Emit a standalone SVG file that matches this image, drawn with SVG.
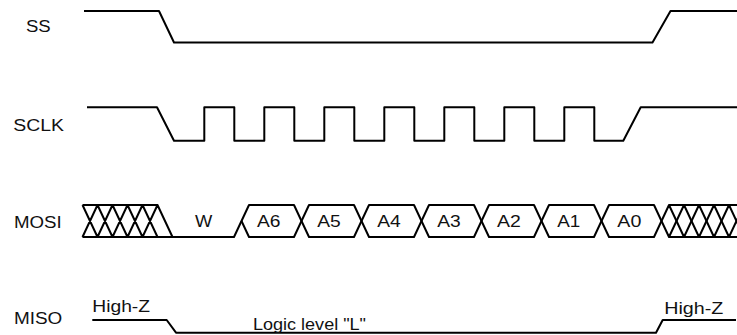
<svg xmlns="http://www.w3.org/2000/svg" width="737" height="335" viewBox="0 0 737 335">
<style>
.w{fill:none;stroke:#000;stroke-width:2;stroke-linejoin:round;stroke-linecap:butt}
.t{font-family:"Liberation Sans",Arial,sans-serif;font-size:16px;fill:#111}
</style>
<rect width="737" height="335" fill="#fff"/>
<g id="labels">
<text class="t" x="26" y="32" textLength="24.7" lengthAdjust="spacingAndGlyphs">SS</text>
<text class="t" x="13.3" y="131" textLength="50.7" lengthAdjust="spacingAndGlyphs">SCLK</text>
<text class="t" x="14" y="227.7" textLength="47.7" lengthAdjust="spacingAndGlyphs">MOSI</text>
<text class="t" x="14" y="324.3" textLength="48.3" lengthAdjust="spacingAndGlyphs">MISO</text>
</g>
<g id="ss">
<path class="w" d="M84,11 H159 L174,42.5 H652.5 L670.5,11 H737"/>
</g>
<g id="sclk">
<path class="w" d="M87,107.3 H157 L174,140.7 H204.3 V107.3 H234.3 V140.7 H264.3 V107.3 H294.3 V140.7 H324.3 V107.3 H354.3 V140.7 H384.3 V107.3 H414.3 V140.7 H444.3 V107.3 H474.3 V140.7 H504.3 V107.3 H534.3 V140.7 H564.3 V107.3 H594.3 V140.7 H623.3 L640.7,107.3 H737"/>
</g>
<g id="mosi">
<path class="w" d="M82.5,205 H157.5 M82.5,205 L97.5,237 L112.5,205 L127.5,237 L142.5,205 L157.5,237 M82.5,237 L97.5,205 L112.5,237 L127.5,205 L142.5,237 L157.5,205 L172.5,237"/>
<path class="w" d="M82.5,237 H234 L249,205 H294 L309,237 H354 L369,205 H414 L429,237 H474 L489,205 H534 L549,237 H594 L609,205 H654 L669,237 L684,205 L699,237 L714,205 L729,237 L744,205"/>
<path class="w" d="M241.5,221 L249,237 H294 L309,205 H354 L369,237 H414 L429,205 H474 L489,237 H534 L549,205 H594 L609,237 H654 L669,205 L684,237 L699,205 L714,237 L729,205 L744,237"/>
<path class="w" d="M669,205 H737 M669,237 H737"/>
<text class="t" x="195" y="227.3" textLength="17.3" lengthAdjust="spacingAndGlyphs">W</text>
<text class="t" x="257" y="227.3" textLength="23.5" lengthAdjust="spacingAndGlyphs">A6</text>
<text class="t" x="317.3" y="227.3" textLength="23.5" lengthAdjust="spacingAndGlyphs">A5</text>
<text class="t" x="377.3" y="227.3" textLength="23.5" lengthAdjust="spacingAndGlyphs">A4</text>
<text class="t" x="437.3" y="227.3" textLength="23.5" lengthAdjust="spacingAndGlyphs">A3</text>
<text class="t" x="497" y="227.3" textLength="23.8" lengthAdjust="spacingAndGlyphs">A2</text>
<text class="t" x="557.3" y="227.3" textLength="23" lengthAdjust="spacingAndGlyphs">A1</text>
<text class="t" x="617.3" y="227.3" textLength="24" lengthAdjust="spacingAndGlyphs">A0</text>
</g>
<g id="miso">
<path class="w" d="M92.3,320 H166.7 L176,332.7 H656 L662.7,320 H736"/>
<text class="t" x="92.3" y="312.3" textLength="57.7" lengthAdjust="spacingAndGlyphs">High-Z</text>
<text class="t" x="664.3" y="313.5" textLength="59" lengthAdjust="spacingAndGlyphs">High-Z</text>
<text class="t" x="253" y="330" textLength="113" lengthAdjust="spacingAndGlyphs">Logic level "L"</text>
</g>
</svg>
